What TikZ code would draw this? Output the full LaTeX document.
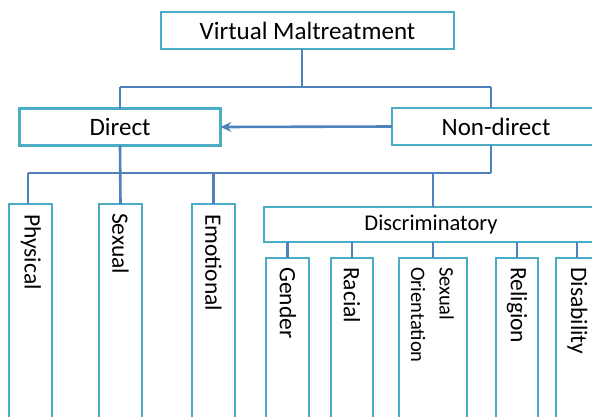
\documentclass[tikz,border=0pt]{standalone}
\usepackage{fontspec}
\setmainfont{Carlito}
\usetikzlibrary{arrows.meta,calc}
\definecolor{boxc}{HTML}{4BACC6}
\definecolor{linec}{HTML}{4F81BD}
\tikzset{
  box/.style={draw=boxc,line width=2.4pt,fill=white,rectangle,inner sep=0pt,outer sep=0pt},
  conn/.style={draw=linec,line width=2.6pt},
  big/.style={font=\fontsize{25}{29}\selectfont},
  mid/.style={font=\fontsize{22.5}{26}\selectfont},
  vlab/.style={rotate=-90,anchor=west,inner sep=0pt,font=\fontsize{23.5}{27}\selectfont,text=black},
}
\begin{document}
\begin{tikzpicture}[x=1pt,y=-1pt]
\useasboundingbox (0,0) rectangle (592,416);
\clip (0,0) rectangle (592,416);
\fill[white] (0,0) rectangle (592,416);
% level 0 and 1
\node[box,big,minimum width=293pt,minimum height=37pt] (vm) at (307.5,30.5) {Virtual Maltreatment};
\node[box,big,minimum width=201pt,minimum height=37pt] (direct) at (120,127) {Direct};
\node[box,minimum width=208pt,minimum height=37pt] (nondirect) at (496,126.5) {};
\node[big,inner sep=0pt] (ndlab) at (496,126.5) {Non-direct};
% junctions
\coordinate (j0) at (302,87);
\coordinate (jd) at (120,87);
\coordinate (jn) at (491,87);
\coordinate (j1) at (491,173);
% level 2
\node[box,minimum width=43pt,minimum height=230pt,anchor=north] (phys) at (30.5,204) {};
\node[box,minimum width=43pt,minimum height=230pt,anchor=north] (sex) at (120.5,204) {};
\node[box,minimum width=43pt,minimum height=230pt,anchor=north] (emo) at (213.5,204) {};
\node[box,minimum width=334pt,minimum height=35pt,anchor=north] (disc) at (431,207) {};
\node[mid,inner sep=0pt] (disclab) at (431,224.5) {Discriminatory};
\node[vlab] (physl) at (31,214) {Physical};
\node[vlab] (sexl) at (120.5,213) {Sexual};
\node[vlab] (emol) at (213.5,214) {Emotional};
% level 3
\node[box,minimum width=43pt,minimum height=180pt,anchor=north] (gen) at (287.5,258) {};
\node[box,minimum width=42pt,minimum height=180pt,anchor=north] (rac) at (352,258) {};
\node[box,minimum width=68pt,minimum height=180pt,anchor=north] (so) at (433,258) {};
\node[box,minimum width=42pt,minimum height=180pt,anchor=north] (rel) at (517,258) {};
\node[box,minimum width=42pt,minimum height=180pt,anchor=north] (dis) at (577,258) {};
\node[vlab] (genl) at (288,267) {Gender};
\node[vlab] (racl) at (352,267) {Racial};
\node[vlab,align=left,font=\fontsize{20.5}{28.5}\selectfont] (sol) at (432.5,267) {Sexual\\Orientation};
\node[vlab] (rell) at (517,267) {Religion};
\node[vlab] (disl) at (577.5,267) {Disability};
% connectors
\draw[conn] (vm.south -| j0) -- (j0);
\draw[conn] (jd) -- (jn);
\draw[conn] (jd) -- (direct.north);
\draw[conn] (jn) -- (nondirect.north -| jn);
\draw[conn,-{Stealth[length=11pt,width=10pt,inset=4pt]}] (nondirect.west) -- (direct.east);
\draw[conn] (nondirect.south -| j1) -- (j1);
\draw[conn] (28,173) -- (j1);
\draw[conn] (direct.south) -- (sex.north);
\draw[conn] (28,173) -- (phys.north -| 28,0);
\draw[conn] (emo.north |- j1) -- (emo.north);
\draw[conn] (disc.north -| 433,0) -- (433,173);
\draw[conn] (disc.south -| gen.north) -- (gen.north);
\draw[conn] (disc.south -| rac.north) -- (rac.north);
\draw[conn] (disc.south -| so.north) -- (so.north);
\draw[conn] (disc.south -| rel.north) -- (rel.north);
\draw[conn] (disc.south -| dis.north) -- (dis.north);
\end{tikzpicture}
\end{document}
